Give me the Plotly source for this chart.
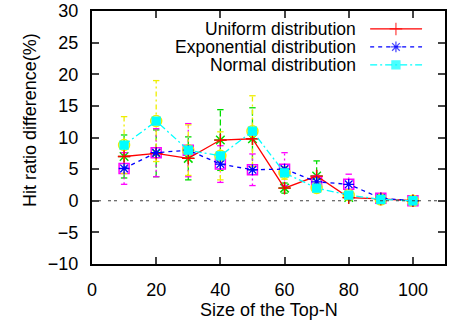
import plotly.graph_objects as go

top_n = [10, 20, 30, 40, 50, 60, 70, 80, 90, 100]

uniform = [7.0, 7.5, 6.7, 9.6, 9.8, 2.0, 3.9, 0.5, 0.3, 0.0]
uniform_err = [3.4, 3.7, 3.4, 4.8, 4.9, 0.8, 2.4, 0.4, 0.2, 0.0]

exponential = [5.1, 7.6, 8.0, 5.8, 4.9, 5.0, 3.0, 2.6, 0.4, 0.0]
exponential_err = [2.5, 3.8, 4.2, 2.9, 2.5, 2.6, 1.0, 1.6, 0.3, 0.0]

normal = [8.8, 12.6, 8.0, 7.1, 11.0, 4.4, 2.0, 0.9, 0.2, 0.0]
normal_err = [4.5, 6.4, 4.0, 3.8, 5.6, 1.0, 0.6, 0.3, 0.2, 0.0]

series_names = ["Uniform distribution", "Exponential distribution", "Normal distribution"]
x_ticks = [0, 20, 40, 60, 80, 100]
y_ticks = [-10, -5, 0, 5, 10, 15, 20, 25, 30]
x_title = "Size of the Top-N"
y_title = "Hit ratio difference(%)"

FONT = "Liberation Sans, Arial, sans-serif"
FS = 18
LFS = 17.5
fig = go.Figure()

series = [
    (uniform, uniform_err, "#ff0000", "solid", "cross-thin-open", 9, "#00dd00", "6px,3px", "asterisk-open", 10),
    (exponential, exponential_err, "#0000ff", "4px,4px", "asterisk-open", 9, "#ff00ff", "2px,3px", "square-open", 10),
    (normal, normal_err, "#00ffff", "7px,3px,2px,3px", "square", 8, "#eeee00", "5px,3px,2px,3px", "circle-open", 11),
]

cap = 1.0  # half cap width in data units
for vals, errs, lc, ld, lsym, lsz, ec, ed, esym, esz in series:
    bx, by, cx, cy = [], [], [], []
    for xv, v, e in zip(top_n, vals, errs):
        bx += [xv, xv, None]
        by += [v - e, v + e, None]
        for yy in (v - e, v + e):
            cx += [xv - cap, xv + cap, None]
            cy += [yy, yy, None]
    fig.add_trace(go.Scatter(x=bx, y=by, mode="lines", line=dict(color=ec, width=1.3, dash=ed),
                             showlegend=False, hoverinfo="skip"))
    fig.add_trace(go.Scatter(x=cx, y=cy, mode="lines", line=dict(color=ec, width=1.3),
                             showlegend=False, hoverinfo="skip"))
    fig.add_trace(go.Scatter(x=top_n, y=vals, mode="markers",
                             marker=dict(symbol=esym, size=esz, color=ec, line=dict(color=ec, width=1.5)),
                             showlegend=False, hoverinfo="skip"))

for (vals, errs, lc, ld, lsym, lsz, ec, ed, esym, esz), name in zip(series, series_names):
    fig.add_trace(go.Scatter(x=top_n, y=vals, mode="lines+markers", name=name,
                             line=dict(color=lc, width=1.3, dash=ld),
                             marker=dict(symbol=lsym, size=lsz, color=lc, line=dict(color=lc, width=1.3)),
                             showlegend=False))

fig.add_hline(y=0, line=dict(color="#404040", width=1, dash="3px,3px,3px,7px"))

leg_y = [0.929, 0.858, 0.787]
for (vals, errs, lc, ld, lsym, lsz, ec, ed, esym, esz), name, ly in zip(series, series_names, leg_y):
    fig.add_annotation(text=name, xref="paper", yref="paper", x=0.754, y=ly,
                       xanchor="right", yanchor="middle", showarrow=False,
                       font=dict(family=FONT, size=LFS, color="black"))
    fig.add_trace(go.Scatter(x=[0.788, 0.861, 0.935], y=[ly, ly, ly], xaxis="x2", yaxis="y2",
                             mode="lines+markers", line=dict(color=lc, width=1.3, dash=ld),
                             marker=dict(symbol=lsym, size=[0, lsz, 0], color=lc, line=dict(color=lc, width=1.3)),
                             showlegend=False, hoverinfo="skip"))

fig.add_annotation(text=x_title, xref="paper", yref="paper", x=0.5, y=-0.182,
                   xanchor="center", yanchor="middle", showarrow=False,
                   font=dict(family=FONT, size=FS, color="black"))
fig.add_annotation(text=y_title, xref="paper", yref="paper", x=-0.176, y=0.569,
                   xanchor="center", yanchor="middle", showarrow=False, textangle=-90,
                   font=dict(family=FONT, size=FS, color="black"))

fig.update_layout(
    width=449, height=324,
    margin=dict(l=92, r=4, t=11, b=60, autoexpand=False),
    paper_bgcolor="white", plot_bgcolor="white",
    font=dict(family=FONT, size=FS, color="black"),
    showlegend=False,
    xaxis=dict(range=[0, 110], tickvals=x_ticks, ticks="inside", ticklen=7, tickwidth=1.5,
               showline=True, linewidth=2, linecolor="black", mirror="ticks", showgrid=False,
               zeroline=False, ticklabelstandoff=8, automargin=False),
    yaxis=dict(range=[-10, 30], tickvals=y_ticks, ticks="inside", ticklen=7, tickwidth=1.5,
               showline=True, linewidth=2, linecolor="black", mirror="ticks", showgrid=False,
               zeroline=False, ticklabelstandoff=8, automargin=False),
    xaxis2=dict(range=[0, 1], overlaying="x", visible=False),
    yaxis2=dict(range=[0, 1], overlaying="y", visible=False),
)

fig.write_html("out.html", config={"displayModeBar": False},
               post_script="document.body.style.margin='0';document.body.style.overflow='hidden';")
